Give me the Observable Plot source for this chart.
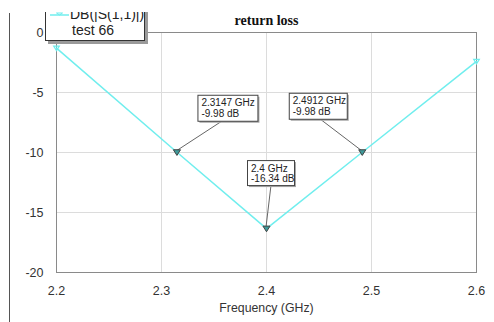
<!DOCTYPE html>
<html><head><meta charset="utf-8">
<script src="https://cdn.jsdelivr.net/npm/d3@7"></script>
<script src="https://cdn.jsdelivr.net/npm/@observablehq/plot@0.6"></script>
<style>
body{margin:0;background:#fff;font-family:"Liberation Sans",Arial,sans-serif;}
#wrap{position:relative;width:494px;height:322px;overflow:hidden;background:#fff;}
#wrap svg{display:block;}
.abs{position:absolute;}
#leftline{left:9px;top:13px;width:1px;bottom:0;background:#555;}
#legend{left:45px;top:-12px;width:98px;height:51px;border:1px solid #333;background:#fff;box-shadow:3px 3px 0 #9a9a9a;}
#legend .t{position:absolute;font-size:14px;color:#222;white-space:nowrap;}
#cover{left:0;top:0;width:494px;height:12px;background:#fff;}
</style></head><body><div id="wrap"></div>
<script>
// ---- data ----
const freq = [2.2, 2.3147, 2.4, 2.4912, 2.6];
const s11 = [-1.3, -9.98, -16.34, -9.98, -2.4];
const markerFreq = [2.3147, 2.4912, 2.4];
const markerDb = [-9.98, -9.98, -16.34];
const xTicks = [2.2, 2.3, 2.4, 2.5, 2.6];
const yTicks = [0, -5, -10, -15, -20];
const seriesName = "DB(|S(1,1)|)";
const legendLabel = "test 66";
const titleText = "return loss";
const xLabel = "Frequency (GHz)";

const rows = freq.map((f, i) => ({f, db: s11[i]}));
const ends = [rows[0], rows[rows.length - 1]];
const markers = markerFreq.map((f, i) => ({f, db: markerDb[i]}));

const triDown = {draw(ctx, size) {
  const w = Math.sqrt(size);
  ctx.moveTo(-w / 2, -w * 0.35); ctx.lineTo(w / 2, -w * 0.35); ctx.lineTo(0, w * 0.45); ctx.closePath();
}};

const cyan = "#70eeee";
const font = "'Liberation Sans', Arial, sans-serif";

// layout of marker readout boxes (pixel offsets from the marked point)
const boxLayout = [
  {dx: 21, dy: -57, w: 60, h: 26, lx: 46, ly: -31},
  {dx: -73, dy: -59, w: 58, h: 26, lx: -42, ly: -33},
  {dx: -19, dy: -68, w: 47, h: 25, lx: 5, ly: -43}
];

function annotations(index, scales) {
  const g = d3.create("svg:g").attr("font-family", font).attr("font-size", 10).attr("fill", "#222")
    .attr("text-anchor", "start");
  markers.forEach((m, i) => {
    const px = scales.x(m.f), py = scales.y(m.db), b = boxLayout[i];
    g.append("line").attr("x1", px + b.lx).attr("y1", py + b.ly).attr("x2", px).attr("y2", py - 1)
      .attr("stroke", "#666").attr("stroke-width", 1);
    g.append("rect").attr("x", px + b.dx + 2).attr("y", py + b.dy + 2).attr("width", b.w).attr("height", b.h).attr("fill", "#a8a8a8");
    g.append("rect").attr("x", px + b.dx + 0.5).attr("y", py + b.dy + 0.5).attr("width", b.w).attr("height", b.h)
      .attr("fill", "#fff").attr("stroke", "#444");
    g.append("text").attr("x", px + b.dx + 4).attr("y", py + b.dy + 11.5).text(`${m.f} GHz`);
    g.append("text").attr("x", px + b.dx + 4).attr("y", py + b.dy + 22).text(`${m.db.toFixed(2)} dB`);
  });
  return g.node();
}

const fmtY = d => String(d);

const chart = Plot.plot({
  width: 494, height: 322,
  marginLeft: 56, marginRight: 18, marginTop: 32, marginBottom: 50,
  style: {fontFamily: font, fontSize: "11px", color: "#333", background: "transparent", overflow: "visible"},
  x: {domain: [2.2, 2.6], ticks: xTicks, tickFormat: d3.format(".1f"), label: null},
  y: {domain: [-20, 0], ticks: yTicks, tickFormat: fmtY, label: null},
  marks: [
    Plot.gridX(xTicks.slice(1, -1), {stroke: "#dcdcdc", strokeOpacity: 1}),
    Plot.gridY(yTicks.slice(1, -1), {stroke: "#dcdcdc", strokeOpacity: 1}),
    Plot.frame({stroke: "#8a8a8a"}),
    Plot.axisX({ticks: xTicks, tickSize: 0, tickPadding: 14, tickFormat: d3.format(".1f"), label: null, fontSize: 12.5, fill: "#333"}),
    Plot.axisY({ticks: yTicks, tickSize: 0, tickPadding: 13, tickFormat: fmtY, label: null, fontSize: 12.5, fill: "#333"}),
    Plot.line(rows, {x: "f", y: "db", stroke: cyan, strokeWidth: 1.5}),
    Plot.dot(ends, {x: "f", y: "db", symbol: triDown, r: 3.2, stroke: cyan, fill: "none", strokeWidth: 1.2}),
    annotations,
    Plot.dot(markers, {x: "f", y: "db", symbol: triDown, r: 4, stroke: "#444", fill: "#3e9a9a", strokeWidth: 1}),
    Plot.text([titleText], {frameAnchor: "top", dy: -8, lineAnchor: "bottom", fontWeight: "bold",
      fontFamily: "'Liberation Serif', 'Times New Roman', serif", fontSize: 14, fill: "#111"}),
    Plot.text([xLabel], {frameAnchor: "bottom", dy: 36, lineAnchor: "middle", fontSize: 12.3, fill: "#333"})
  ]
});

const wrap = document.getElementById("wrap");
wrap.appendChild(chart);

const leftline = document.createElement("div"); leftline.className = "abs"; leftline.id = "leftline"; wrap.appendChild(leftline);
const legend = document.createElement("div"); legend.className = "abs"; legend.id = "legend";
legend.innerHTML = `<svg class="abs" style="left:4px;top:23px" width="20" height="8"><line x1="0" y1="3" x2="19" y2="3" stroke="${cyan}" stroke-width="1.5"/><path d="M9.5,3 l-3,-2 h6 z" fill="none" stroke="${cyan}"/></svg>`;
const t1 = document.createElement("div"); t1.className = "t"; t1.style.left = "24px"; t1.style.top = "17px"; t1.textContent = seriesName;
const t2 = document.createElement("div"); t2.className = "t"; t2.style.left = "26px"; t2.style.top = "33px"; t2.textContent = legendLabel;
legend.appendChild(t1); legend.appendChild(t2);
wrap.appendChild(legend);
const cover = document.createElement("div"); cover.className = "abs"; cover.id = "cover"; wrap.appendChild(cover);
</script></body></html>
